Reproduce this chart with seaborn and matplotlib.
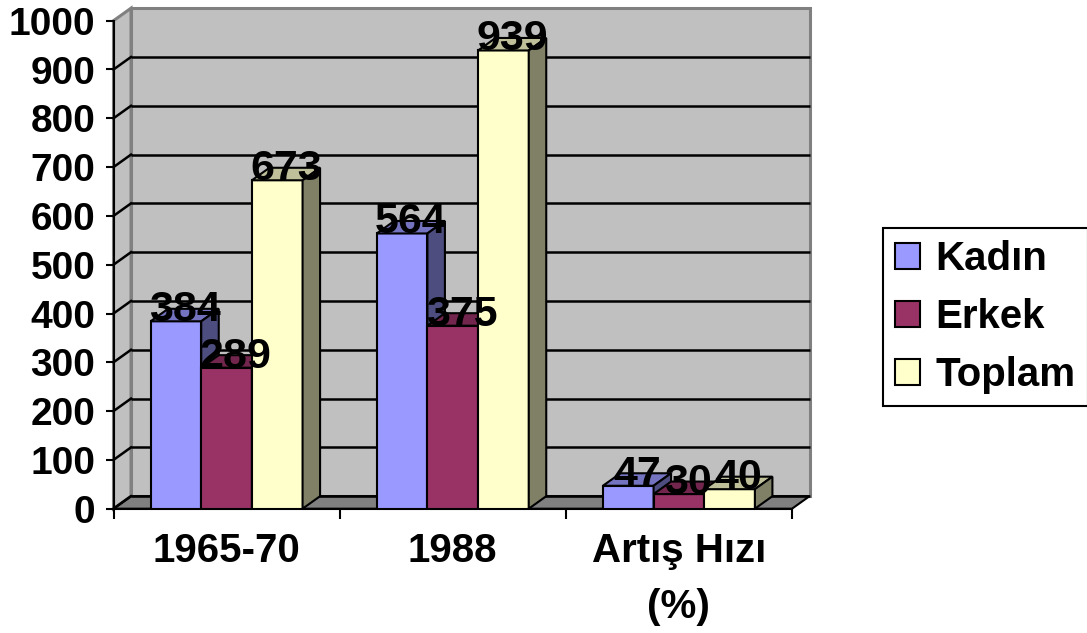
import matplotlib
matplotlib.use('Agg')
import matplotlib.pyplot as plt
import seaborn as sns
import pandas as pd
from matplotlib.patches import Polygon, Patch, Rectangle
from matplotlib.ticker import FixedLocator
from matplotlib.colors import to_rgb

# ---------------- data ----------------
categories = ['1965-70', '1988', 'Artış Hızı\n(%)']
series = ['Kadın', 'Erkek', 'Toplam']
kadin = [384, 564, 47]
erkek = [289, 375, 30]
toplam = [673, 939, 40]
y_ticks = list(range(0, 1001, 100))
colors = {'Kadın': '#9999FF', 'Erkek': '#993366', 'Toplam': '#FFFFCC'}

df = pd.DataFrame({
    'Kategori': categories * 3,
    'Seri': [s for s in series for _ in categories],
    'Değer': kadin + erkek + toplam,
})

plt.rcParams['font.family'] = ['Liberation Sans', 'DejaVu Sans']
plt.rcParams['font.weight'] = 'bold'

W, H = 1087, 633
fig = plt.figure(figsize=(W / 100, H / 100), dpi=100)
fig.patch.set_facecolor('white')
ax_l, ax_r, ax_b, ax_t = 113.5, 792.0, 508.7, 20.7
ax = fig.add_axes([ax_l / W, (H - ax_b) / H, (ax_r - ax_l) / W, (ax_b - ax_t) / H])
ax.patch.set_visible(False)

sns.barplot(data=df, x='Kategori', y='Değer', hue='Seri', order=categories,
            hue_order=series, palette=colors, saturation=1, width=0.672,
            edgecolor='black', linewidth=1.5, legend=False, errorbar=None, ax=ax)
bars = sorted([p for p in ax.patches if isinstance(p, Rectangle) and p.get_height() > 0],
              key=lambda p: p.get_x())

ax.set_xlim(-0.5, 2.5)
ax.set_ylim(0, 1000)
ax.set_xlabel('')
ax.set_ylabel('')

# depth offset (3D look) in data units
DX_PX, DY_PX = 17.5, 12.5
ddx = DX_PX / ((ax_r - ax_l) / 3.0)
ddy = DY_PX / ((ax_b - ax_t) / 1000.0)
x0, x1 = -0.5, 2.5

wall_c = '#C0C0C0'
wall_edge = '#808080'
# back wall
ax.add_patch(Rectangle((x0 + ddx, ddy), x1 - x0, 1000, facecolor=wall_c,
                       edgecolor=wall_edge, lw=2.2, zorder=1, clip_on=False))
# left wall
ax.add_patch(Polygon([(x0, 0), (x0 + ddx, ddy), (x0 + ddx, 1000 + ddy), (x0, 1000)],
                     closed=True, facecolor=wall_c, edgecolor=wall_edge, lw=2.2,
                     zorder=1, clip_on=False))
# floor
ax.add_patch(Polygon([(x0, 0), (x1, 0), (x1 + ddx, ddy), (x0 + ddx, ddy)],
                     closed=True, facecolor='#808080', edgecolor='black', lw=1.5,
                     zorder=1.5, clip_on=False))
# gridlines on back wall + diagonals on left wall
for v in y_ticks[:-1]:
    ax.plot([x0 + ddx, x1 + ddx], [v + ddy, v + ddy], color='black', lw=1.8,
            zorder=2, clip_on=False, solid_capstyle='butt')
    ax.plot([x0, x0 + ddx], [v, v + ddy], color='black', lw=1.8, zorder=2,
            clip_on=False)


def shade(c, f):
    r, g, b = to_rgb(c)[:3]
    return (r * f, g * f, b * f)


for i, p in enumerate(bars):
    x, w, h = p.get_x(), p.get_width(), p.get_height()
    fc = p.get_facecolor()
    z = 10 + 3 * i
    p.set_zorder(z)
    ax.add_patch(Polygon([(x, h), (x + ddx, h + ddy), (x + w + ddx, h + ddy), (x + w, h)],
                         closed=True, facecolor=shade(fc, 0.75), edgecolor='black',
                         lw=1.5, zorder=z + 1, clip_on=False))
    ax.add_patch(Polygon([(x + w, 0), (x + w + ddx, ddy), (x + w + ddx, h + ddy), (x + w, h)],
                         closed=True, facecolor=shade(fc, 0.5), edgecolor='black',
                         lw=1.5, zorder=z + 1, clip_on=False))
    ax.text(x + w / 2 + ddx / 2, h, f'{h:.0f}', ha='center', va='baseline',
            fontsize=31, fontweight='bold', color='black', zorder=200, clip_on=False)

# axes styling
for s in ['top', 'right']:
    ax.spines[s].set_visible(False)
for s in ['left', 'bottom']:
    ax.spines[s].set_color('black')
    ax.spines[s].set_linewidth(1.5)
    ax.spines[s].set_zorder(3)

ax.set_yticks(y_ticks)
ax.tick_params(axis='y', length=6.1, width=1.5, color='black', pad=7.0, labelsize=28)
ax.tick_params(axis='x', which='major', length=0, pad=16.5, labelsize=29)
ax.xaxis.set_minor_locator(FixedLocator([-0.5, 0.5, 1.5, 2.5]))
ax.tick_params(axis='x', which='minor', length=7.5, width=1.5, color='black', direction='out')
for lbl in ax.get_xticklabels():
    lbl.set_fontweight('bold')
    lbl.set_linespacing(1.6)
for lbl in ax.get_yticklabels():
    lbl.set_fontweight('bold')

handles = [Patch(facecolor=colors[s], edgecolor='black', linewidth=1.5, label=s) for s in series]
leg = ax.legend(handles=handles, loc='upper left', bbox_to_anchor=(883 / W, 1 - 228 / H),
                bbox_transform=fig.transFigure, frameon=True, fancybox=False,
                edgecolor='black', framealpha=1, borderaxespad=0, fontsize=29,
                handlelength=0.62, handleheight=0.62, handletextpad=0.38,
                borderpad=0.3, labelspacing=0.5)
leg.get_frame().set_linewidth(1.5)
for t in leg.get_texts():
    t.set_fontweight('bold')

fig.savefig('out.png', dpi=100)
